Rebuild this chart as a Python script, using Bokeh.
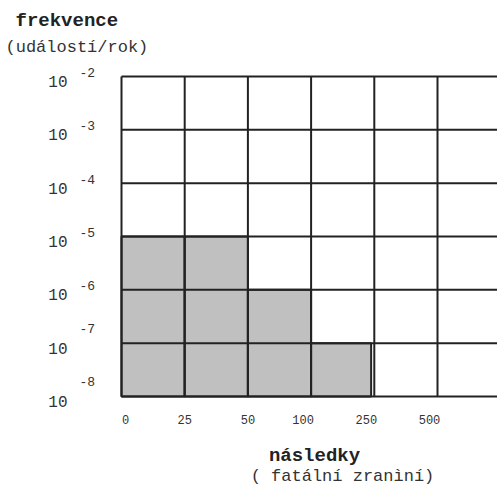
from bokeh.plotting import figure
from bokeh.models import Range1d
from bokeh.core.properties import value
from bokeh.embed import file_html
from bokeh.resources import INLINE

# ---- data ----
x_tick_labels = ["0", "25", "50", "100", "250", "500"]
y_exponents = [-2, -3, -4, -5, -6, -7, -8]
shade_left = [0, 1, 2, 3]
shade_right = [1, 2, 3, 3.95]
shade_top_exp = [-5, -5, -6, -7]
shade_bottom_exp = [-8, -8, -8, -8]
title_y = "frekvence"
subtitle_y = "(událostí/rok)"
title_x = "následky"
subtitle_x = "( fatální zranìní)"

FONT = "Liberation Mono"
W, H = 497, 489
COLW = 63.2       # px per column
ROWH = 53.33      # px per decade
LEFT_PX = 121     # px of x = 0
TOP_PX = 76       # px of exponent -2

def xd(px):
    return (px - LEFT_PX) / COLW

def yd(py):
    return -2 - (py - TOP_PX) / ROWH

p = figure(width=W, height=H, output_backend="svg", toolbar_location=None,
           x_range=Range1d(xd(0), xd(W)), y_range=Range1d(yd(H), yd(0)),
           min_border_left=0, min_border_right=0,
           min_border_top=0, min_border_bottom=0)
p.title.visible = False
p.xaxis.visible = False
p.yaxis.visible = False
p.xgrid.visible = False
p.ygrid.visible = False
p.outline_line_color = None
p.background_fill_color = "white"
p.border_fill_color = "white"

ncols = len(x_tick_labels)
y_top, y_bot = max(y_exponents), min(y_exponents)

# shaded cells
p.quad(left=shade_left, right=shade_right, top=shade_top_exp, bottom=shade_bottom_exp,
       fill_color="#c0c0c0", line_color="#222222", line_width=2)

# grid lines
vx = list(range(ncols + 1))
p.segment(x0=vx, x1=vx, y0=[y_bot] * len(vx), y1=[y_top] * len(vx),
          line_color="#222222", line_width=2)
p.segment(x0=[0] * len(y_exponents), x1=[ncols] * len(y_exponents),
          y0=y_exponents, y1=y_exponents, line_color="#222222", line_width=2)

TXT = "#333333"

# y tick labels: "10" and raised exponent
ten_y = [e - 5 / ROWH for e in y_exponents]
exp_y = [e + (15 if e <= -7 else 4) / ROWH for e in y_exponents]
p.text(x=[xd(67)] * len(y_exponents), y=ten_y, text=["10"] * len(y_exponents),
       text_align="right", text_baseline="middle", text_font=value(FONT),
       text_font_size="16px", text_color=TXT)
p.text(x=[xd(79)] * len(y_exponents), y=exp_y, text=[str(e) for e in y_exponents],
       text_align="left", text_baseline="middle", text_font=value(FONT),
       text_font_size="13px", text_color=TXT)

# x tick labels
xt_x = [i + (4 if len(t) == 1 else (-8 if len(t) == 3 else 0)) / COLW
        for i, t in enumerate(x_tick_labels)]
p.text(x=xt_x, y=[yd(419)] * ncols, text=x_tick_labels, text_align="center",
       text_baseline="middle", text_font=value(FONT), text_font_size="12px",
       text_color=TXT)

# axis titles
p.text(x=[xd(15)], y=[yd(20)], text=[title_y], text_align="left",
       text_baseline="middle", text_font=value(FONT), text_font_size="19px",
       text_font_style="bold", text_color="#222222")
p.text(x=[xd(5)], y=[yd(47)], text=[subtitle_y], text_align="left",
       text_baseline="middle", text_font=value(FONT), text_font_size="17px",
       text_color=TXT)
p.text(x=[xd(314)], y=[yd(455)], text=[title_x], text_align="center",
       text_baseline="middle", text_font=value(FONT), text_font_size="19px",
       text_font_style="bold", text_color="#222222")
p.text(x=[xd(342)], y=[yd(476)], text=[subtitle_x], text_align="center",
       text_baseline="middle", text_font=value(FONT), text_font_size="17px",
       text_color=TXT)

open("out.html", "w").write(file_html(p, INLINE))
